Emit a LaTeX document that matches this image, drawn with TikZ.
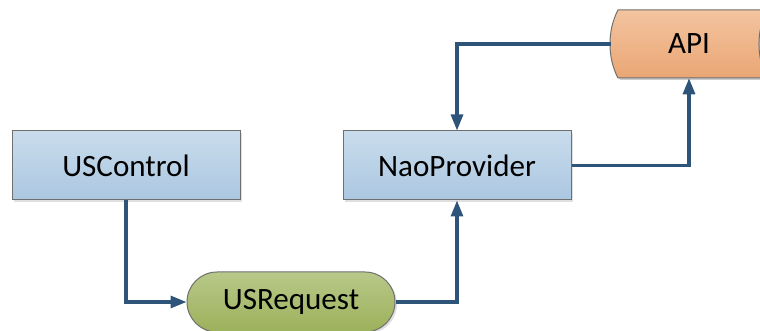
\documentclass[tikz,border=0pt]{standalone}
\usepackage{fontspec}
\setmainfont{Carlito}
\usetikzlibrary{arrows.meta,shadows}

\definecolor{linkblue}{HTML}{2F5479}
\definecolor{edgegray}{HTML}{6F6F6F}
\definecolor{boxtop}{HTML}{C8DCEC}
\definecolor{boxbot}{HTML}{ACC7E1}
\definecolor{apitop}{HTML}{F3C4A0}
\definecolor{apibot}{HTML}{EAA674}
\definecolor{reqtop}{HTML}{B8C88A}
\definecolor{reqbot}{HTML}{9CB15A}

\tikzset{
  boxlabel/.style={font=\fontsize{23.3}{28}\selectfont},
  blockbox/.style={boxlabel, draw=edgegray, line width=0.75pt,
    top color=boxtop, bottom color=boxbot,
    minimum width=171pt, minimum height=51.75pt, inner sep=0pt,
    drop shadow={shadow xshift=1.5pt, shadow yshift=-1.5pt, opacity=0.25}},
  pillbox/.style={boxlabel, draw=edgegray, line width=0.75pt,
    top color=reqtop, bottom color=reqbot, rounded corners=22.5pt,
    minimum width=156pt, minimum height=45pt, inner sep=0pt,
    drop shadow={shadow xshift=1.5pt, shadow yshift=-1.5pt, opacity=0.25}},
  conn/.style={draw=linkblue, line width=2.3pt,
    -{Triangle[length=12pt,width=9pt]}},
}

\begin{document}
\begin{tikzpicture}[x=0.75pt,y=-0.75pt]
  \useasboundingbox (0,0) rectangle (760,331);

  % stored-data shape of the API
  \fill[black, opacity=0.2]
    (620,12) -- (769,12) .. controls (758.3,32) and (758.3,60) .. (769,80)
    -- (620,80) .. controls (609.3,60) and (609.3,32) .. (620,12) -- cycle;
  \path[draw=edgegray, line width=0.75pt, top color=apitop, bottom color=apibot]
    (618,10) -- (767,10) .. controls (756.3,30) and (756.3,58) .. (767,78)
    -- (618,78) .. controls (607.3,58) and (607.3,30) .. (618,10) -- cycle;
  \node[boxlabel, minimum width=117pt, minimum height=51pt, inner sep=0pt]
    (api) at (689,44) {API};

  \node[blockbox] (usc) at (126,165.5) {USControl};
  \node[blockbox] (nao) at (457,165.5) {NaoProvider};
  \node[pillbox] (usr) at (291,302) {USRequest};

  \draw[conn] (usc.south) |- (usr.west);
  \draw[conn] (usr.east) -| (nao.south);
  \draw[conn] (nao.east) -| (api.south);
  \draw[conn] (api.west) -| (nao.north);
\end{tikzpicture}
\end{document}
